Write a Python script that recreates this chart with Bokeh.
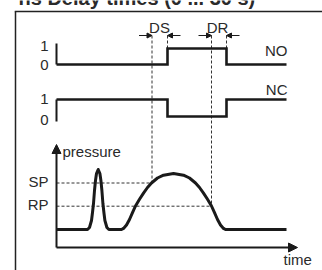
from bokeh.plotting import figure
from bokeh.models import Range1d, Arrow, NormalHead
from bokeh.core.properties import value
from bokeh.embed import file_html
from bokeh.resources import INLINE

# ---------------- data ----------------
title_text = "ns Delay times (0 ... 30 s)"
signal_labels = ["NO", "NC"]
level_labels = ["1", "0", "1", "0"]
delay_labels = ["DS", "DR"]
pressure_labels = ["SP", "RP"]
axis_labels = ["pressure", "time"]

# switching signals (time units)
switch_times = [0, 111, 111, 170, 170, 230]
no_levels = [0, 0, 1, 1, 0, 0]
nc_levels = [1, 1, 0, 0, 1, 1]
switch_on = 111
switch_off = 170
ds_start = 95.5     # pressure rises through SP
dr_start = 155      # pressure falls through RP

# pressure thresholds
sp_level = 64.5
rp_level = 41.3

# pressure curve
pressure_time = [0, 31, 33, 35, 36, 37, 38, 39, 40, 41.7, 43.4, 44.4, 45.4, 46.4, 47.4, 48.4, 50.4, 52.4,
                 65, 67, 70, 73, 76, 79, 83, 87, 91, 95, 101, 107, 117, 127, 133, 139, 143, 147, 151,
                 155, 158, 161, 164, 167, 169, 230]
pressure_value = [18, 18, 20, 27, 35, 44, 57, 67, 74, 78, 74, 67, 57, 44, 35, 27, 20, 18,
                  18, 19.1, 22.5, 28, 34.8, 41.5, 48.2, 54.4, 60, 64.5, 69.5, 72.3, 74, 72.3, 69.5, 64.5, 60,
                  54.4, 48.2, 41.5, 34.8, 28, 22.5, 19.1, 18, 18]
pressure_axis_top = 103
time_axis_end = 241

# ---------------- layout ----------------
INK = "#1a1a1a"
TXT = "#2a2a2a"
FONT = value("Liberation Sans")
W, H = 322, 270
TOP, BOT = 0, H

p = figure(width=W, height=H, x_range=Range1d(-56, W - 56), y_range=Range1d(BOT, TOP),
           output_backend="svg", toolbar_location=None, min_border=0,
           x_axis_type=None, y_axis_type=None, outline_line_color=None,
           background_fill_color="white", border_fill_color="white")

P0, NO0, NC0 = 247, 64, 116
p.extra_y_ranges = {
    "p": Range1d(P0 - BOT, P0 - TOP),
    "no": Range1d((NO0 - BOT) / 16, (NO0 - TOP) / 16),
    "nc": Range1d((NC0 - BOT) / 17, (NC0 - TOP) / 17),
}

# frame lines
p.segment(x0=[-41, -41.75], y0=[11, 11], x1=[-41, 266], y1=[270, 11],
          line_width=1.5, line_color="#222222")

# dashed guides
dash = dict(line_dash="3 2", line_width=1, line_color="#333333")
arrow_row = 35
p.segment(x0=[ds_start, dr_start], y0=[P0 - arrow_row] * 2, x1=[ds_start, dr_start],
          y1=[sp_level, rp_level], y_range_name="p", **dash)
p.segment(x0=[0, 0], y0=[sp_level, rp_level], x1=[ds_start, dr_start],
          y1=[sp_level, rp_level], y_range_name="p", **dash)
p.segment(x0=[switch_on, switch_off], y0=[(NO0 - arrow_row) / 16] * 2,
          x1=[switch_on, switch_off], y1=[1, 1], y_range_name="no", **dash)

# delay arrows
for xe, xs in [(ds_start, ds_start - 13), (switch_on, switch_on + 13),
               (dr_start, dr_start - 13), (switch_off, switch_off + 13)]:
    p.add_layout(Arrow(x_start=xs, y_start=arrow_row, x_end=xe, y_end=arrow_row,
                       line_width=1, line_color=INK,
                       end=NormalHead(size=5, fill_color=INK, line_color=INK, line_width=1)))

# signal axes
p.line([0, 0], [1.31, 0], y_range_name="no", line_width=2, line_color=INK)
p.line([0, 0], [1, -0.3], y_range_name="nc", line_width=2, line_color=INK)

# signals
p.line(switch_times, no_levels, y_range_name="no", line_width=2.6, line_color=INK, line_join="miter")
p.line(switch_times, nc_levels, y_range_name="nc", line_width=2.6, line_color=INK, line_join="miter")

# pressure axes
p.add_layout(Arrow(x_start=0, y_start=0, x_end=0, y_end=pressure_axis_top, y_range_name="p",
                   line_width=2, line_color=INK,
                   end=NormalHead(size=9, fill_color=INK, line_color=INK, line_width=1)))
p.add_layout(Arrow(x_start=0, y_start=0, x_end=time_axis_end, y_end=0, y_range_name="p",
                   line_width=2, line_color=INK,
                   end=NormalHead(size=9, fill_color=INK, line_color=INK, line_width=1)))

# pressure curve
p.line(pressure_time, pressure_value, y_range_name="p", line_width=3, line_color=INK,
       line_join="round")

# texts (baseline rows, corrected for renderer offset)
S = 6.5
txt = dict(text_font=FONT, text_font_size="15px", text_color=TXT, text_baseline="alphabetic")
p.text(x=[-38], y=[6 - 8.5], text=[title_text], text_font=FONT, text_font_size="20px",
       text_font_style="bold", text_color=TXT, text_baseline="alphabetic", text_align="left")
p.text(x=[103, 161], y=[33 - S, 33 - S], text=delay_labels, text_align="center", **txt)
p.text(x=[231, 231], y=[56 - S, 95.5 - S], text=signal_labels, text_align="right", **txt)
p.text(x=[-8] * 4, y=[v - S for v in (52, 70.5, 105, 125.5)], text=level_labels,
       text_align="right", **txt)
p.text(x=[-8, -8], y=[187 - S, 210 - S], text=pressure_labels, text_align="right", **txt)
p.text(x=[6], y=[157 - S], text=[axis_labels[0]], text_align="left", **txt)
p.text(x=[227], y=[265 - S], text=[axis_labels[1]], text_align="left", **txt)

open("out.html", "w").write(file_html(p, INLINE))
